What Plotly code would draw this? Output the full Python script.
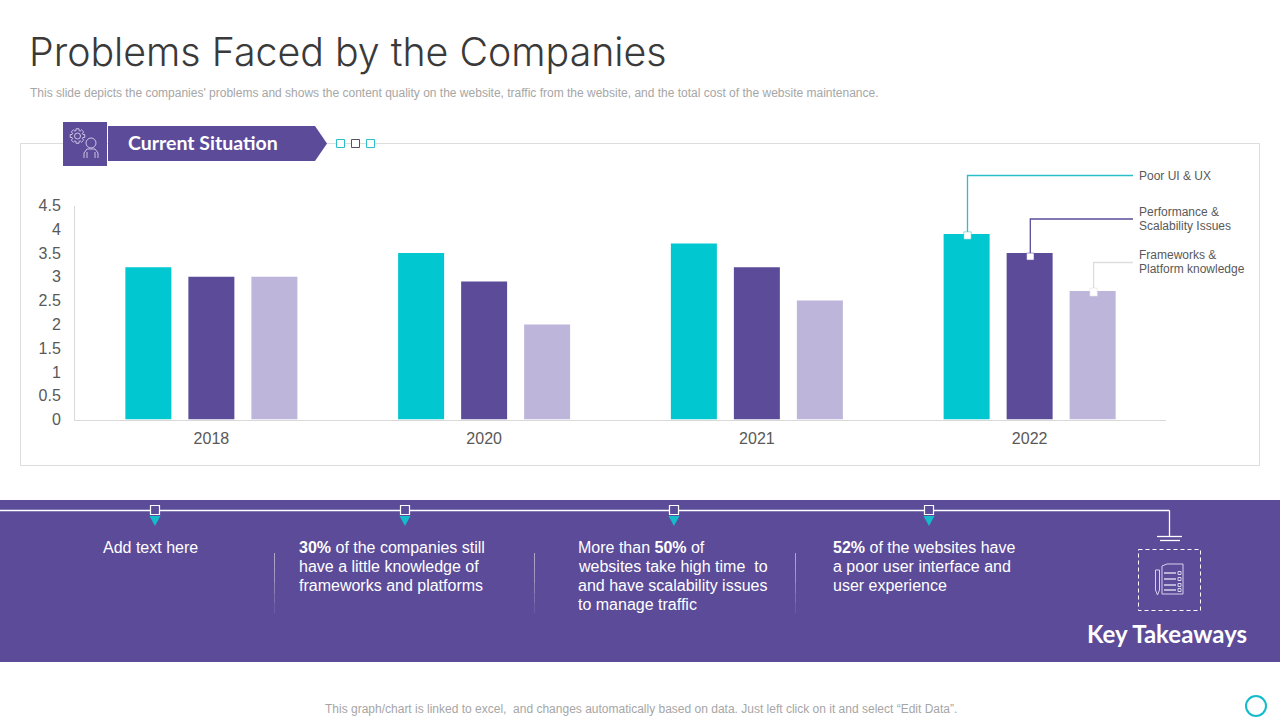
import math
import plotly.graph_objects as go

W, H = 1280, 720
years = ["2018", "2020", "2021", "2022"]
poor_ui = [3.2, 3.5, 3.7, 3.9]
performance = [3.0, 2.9, 3.2, 3.5]
frameworks = [3.0, 2.0, 2.5, 2.7]

TEAL = "#00C7D0"
PURPLE = "#5B4B99"
LAV = "#BDB5DA"
GREY = "#595959"
BODY = "Liberation Sans"
HEAD = "Inter"
HEAD_B = "Lato"

AX_L, AX_R, AX_T, AX_B = 75, 1166, 205.5, 419.5


def X(x):
    return x / W


def Y(y):
    return 1 - y / H


def val_y(v):
    return AX_B - (AX_B - AX_T) * v / 4.5


shapes = []
ann = []


def rect(x0, y0, x1, y1, fill="rgba(0,0,0,0)", line=None, lw=1, dash=None, layer="below"):
    shapes.append(dict(type="rect", xref="paper", yref="paper", x0=X(x0), x1=X(x1), y0=Y(y0), y1=Y(y1),
                       fillcolor=fill, layer=layer,
                       line=dict(color=line or "rgba(0,0,0,0)", width=lw if line else 0, dash=dash or "solid")))


def seg(x0, y0, x1, y1, color, lw=1, layer="above"):
    shapes.append(dict(type="line", xref="paper", yref="paper", x0=X(x0), x1=X(x1), y0=Y(y0), y1=Y(y1),
                       layer=layer, line=dict(color=color, width=lw)))


def circ(cx, cy, r, line, lw=1, fill="rgba(0,0,0,0)"):
    shapes.append(dict(type="circle", xref="paper", yref="paper", x0=X(cx - r), x1=X(cx + r), y0=Y(cy + r), y1=Y(cy - r),
                       fillcolor=fill, layer="above", line=dict(color=line, width=lw)))


def poly(pts, fill="rgba(0,0,0,0)", line=None, lw=1, close=True):
    d = "M " + " L ".join(f"{X(a):.5f} {Y(b):.5f}" for a, b in pts) + (" Z" if close else "")
    shapes.append(dict(type="path", xref="paper", yref="paper", path=d, fillcolor=fill, layer="above",
                       line=dict(color=line or "rgba(0,0,0,0)", width=lw if line else 0)))


def text(x, y, s, size, color, font=BODY, anchor="left", weight=None):
    f = dict(family=font, size=size, color=color)
    if weight:
        f["weight"] = weight
    ann.append(dict(xref="paper", yref="paper", x=X(x), y=Y(y), text=s, showarrow=False, xanchor=anchor,
                    yanchor="middle", borderpad=0, font=f))


# title block
text(28, 52, "Problems Faced by the Companies", 39.3, "#3A3A3A", HEAD, weight=300)
text(28.5, 93, "This slide depicts the companies' problems and shows the content quality on the website, "
     "traffic from the website, and the total cost of the website maintenance.", 12, "#A6A6A6")

# chart frame
rect(20.5, 143.5, 1259.5, 465.5, line="#DDDDDD", lw=1)

# banner
rect(63, 122, 107, 166, fill=PURPLE, layer="above")
poly([(108, 126), (315, 126), (327, 143.5), (315, 161), (108, 161)], fill=PURPLE)
text(127, 143, "<b>Current Situation</b>", 19.5, "white", HEAD_B)
for cx, col in zip((340.5, 355.5, 370.5), ("#2BBFC9", "#555066", "#2BBFC9")):
    rect(cx - 4, 139.5, cx + 4, 147.5, fill="white", line=col, lw=1, layer="above")
ICON = "#D8D2EC"
circ(77.5, 136, 3, ICON, 0.9)
gear = []
for k in range(8):
    a = k * math.pi / 4
    for da, rr in ((-0.28, 5.6), (-0.2, 7.4), (0.2, 7.4), (0.28, 5.6)):
        gear.append((77.5 + rr * math.cos(a + da), 136 + rr * math.sin(a + da)))
poly(gear, line=ICON, lw=0.9)
circ(91, 143, 5, ICON, 0.9)
poly([(84, 158), (84, 153), (87, 149), (95, 149), (98, 153), (98, 158)], line=ICON, lw=0.9, close=False)
seg(87, 152, 87, 158, ICON, 0.9)
seg(95, 152, 95, 158, ICON, 0.9)

# leaders
offs = [967.5, 1030.3, 1093.6]
tops = [val_y(poor_ui[3]), val_y(performance[3]), val_y(frameworks[3])]
elbows = [175.5, 219, 262.5]
cols = ["#2BBFC9", PURPLE, "#DDDDDD"]
sq = [(-2.2, 5.2), (0, 7), (-3, 5)]
for x, t, e, c, (a, b) in zip(offs, tops, elbows, cols, sq):
    poly([(1133, e), (x, e), (x, t)], line=c, lw=1.3, close=False)
    rect(x - 3.7, t + a, x + 3.7, t + b, fill="white", line=c, lw=0.5, layer="above")
text(1138, 175.5, "Poor UI &amp; UX", 12, GREY)
text(1138, 212, "Performance &amp;", 12, GREY)
text(1138, 226, "Scalability Issues", 12, GREY)
text(1138, 255, "Frameworks &amp;", 12, GREY)
text(1138, 269, "Platform knowledge", 12, GREY)

# takeaways band
rect(0, 500, 1280, 662, fill=PURPLE)
seg(0, 510.5, 1169.5, 510.5, "white", 1.3)
seg(1169.5, 510.5, 1169.5, 536, "white", 1.3)
seg(1157, 536.5, 1182, 536.5, "white", 1.3)
seg(1160, 540.5, 1180, 540.5, "white", 1.3)
for cx in (155, 405, 674, 929):
    poly([(cx - 5.5, 516), (cx + 5.5, 516), (cx, 526)], fill="#13BBCB")
    rect(cx - 4.5, 505.5, cx + 4.5, 514.5, fill=PURPLE, line="white", lw=1.2, layer="above")
for sx in (274.5, 534.5, 795.5):
    for j, op in enumerate((0.5, 0.45, 0.4, 0.3, 0.2, 0.1)):
        seg(sx, 553 + j * 10, sx, 563 + j * 10, f"rgba(255,255,255,{op})", 1)

blocks = [
    (101.5, ["Add text here"]),
    (297.5, ["<b>30%</b> of the companies still", "have a little knowledge of", "frameworks and platforms"]),
    (576.5, ["More than <b>50%</b> of", "websites take high time  to", "and have scalability issues", "to manage traffic"]),
    (831.5, ["<b>52%</b> of the websites have", "a poor user interface and", "user experience"]),
]
for x, lines in blocks:
    for i, s in enumerate(lines):
        text(x, 547.5 + 19 * i, s, 16, "white")

rect(1138.5, 549.5, 1200.5, 610.5, line="white", lw=1, dash="4px,3px", layer="above")
poly([(1162, 566), (1167, 564), (1183, 564), (1183, 594), (1162, 594)], line=ICON, lw=1)
poly([(1155.5, 570), (1159.5, 570), (1159.5, 590), (1157.5, 595), (1155.5, 590)], line=ICON, lw=1)
for ry in (573, 579, 585, 590):
    seg(1164, ry, 1176, ry, ICON, 1.5)
    rect(1178, ry - 1.5, 1181, ry + 1.5, line=ICON, lw=1, layer="above")
text(1166.5, 633, "<b>Key Takeaways</b>", 24, "white", HEAD_B, "center")

# footer
text(640.5, 708.5, "This graph/chart is linked to excel,  and changes automatically based on data. "
     "Just left click on it and select “Edit Data”.", 12, "#A6A6A6", anchor="center")
circ(1256, 706, 10, "#13BBCB", 2)

fig = go.Figure()
for name, vals, col in (("Poor UI & UX", poor_ui, TEAL),
                        ("Performance & Scalability Issues", performance, PURPLE),
                        ("Frameworks & Platform knowledge", frameworks, LAV)):
    fig.add_bar(name=name, x=years, y=vals, marker=dict(color=col, line_width=0))

fig.update_layout(
    width=W, height=H, margin=dict(l=0, r=0, t=0, b=0, autoexpand=False), autosize=False,
    paper_bgcolor="white", plot_bgcolor="white", showlegend=False, barmode="group",
    bargap=0.307, bargroupgap=0.27, shapes=shapes, annotations=ann, hovermode=False,
    xaxis=dict(domain=[X(AX_L), X(AX_R)], type="category", automargin=False, showgrid=False, showline=True,
               linecolor="#D9D9D9", linewidth=1, ticks="outside", ticklen=4, tickcolor="rgba(0,0,0,0)",
               tickfont=dict(family=BODY, size=16, color=GREY)),
    yaxis=dict(domain=[Y(AX_B), Y(AX_T)], range=[0, 4.5], dtick=0.5, automargin=False, showgrid=False,
               zeroline=False, showline=True, linecolor="#D9D9D9", linewidth=1, ticks="outside", ticklen=10,
               tickcolor="rgba(0,0,0,0)", tickfont=dict(family=BODY, size=16, color=GREY)),
)
fig.write_html("out.html", config=dict(displayModeBar=False),
               post_script="document.body.style.margin='0';")
